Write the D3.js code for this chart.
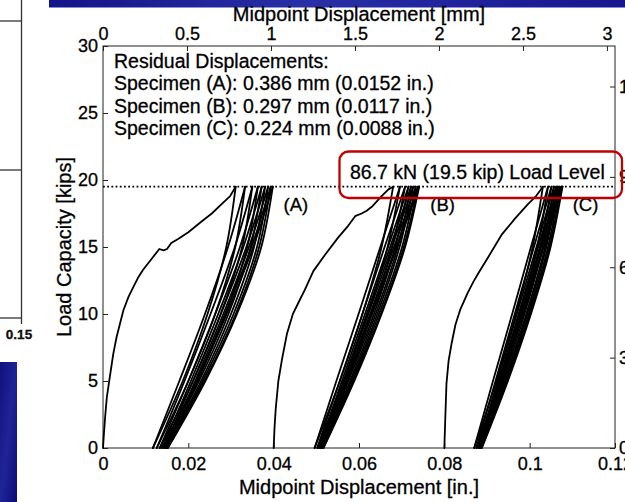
<!DOCTYPE html>
<html>
<head>
<meta charset="utf-8">
<script src="https://cdn.jsdelivr.net/npm/d3@7"></script>
<style>
  html, body { margin: 0; padding: 0; background: #fff; }
  svg { display: block; font-family: "Liberation Sans", Arial, sans-serif; }
  svg text { stroke: #000; stroke-width: 0.3px; }
</style>
</head>
<body>
<svg id="chart" width="625" height="502"></svg>
<script>
// ---- Data (displacement in inches, load in kips) ----
const xTicksIn = [0, 0.02, 0.04, 0.06, 0.08, 0.1, 0.12];
const xTicksMm = [0, 0.5, 1, 1.5, 2, 2.5, 3];
const yTicksKip = [0, 5, 10, 15, 20, 25, 30];
const yTicksKN = [0, 30, 60, 90, 120];

const loadLevelKip = 19.5;
const loadLevelKN = 86.7;

const specimens = ["A", "B", "C"];
const residualMm = [0.386, 0.297, 0.224];
const residualIn = [0.0152, 0.0117, 0.0088];

// load steps at which each loading / unloading branch is sampled
const branchLoads = [0, 5, 10, 15, 19.5];

// first (monotonic) loading to the load level: [disp, load]
const monoA = [[0,0],[0.0002,1.0],[0.0005,2.3],[0.0009,3.8],[0.0016,5.3],[0.0024,7.0],[0.0032,8.3],
  [0.0048,10.3],[0.0060,11.3],[0.0071,12.0],[0.0082,12.7],[0.0094,13.3],[0.0116,14.2],[0.0132,14.85],
  [0.0142,14.75],[0.0150,14.85],[0.0160,15.3],[0.0176,15.6],[0.0200,16.1],[0.0231,16.9],[0.0255,17.5],
  [0.0278,18.2],[0.0298,18.8],[0.0311,19.5]];
const monoB = [[0.0400,0],[0.0402,1.5],[0.0405,3.0],[0.0411,5.0],[0.0420,6.7],[0.0431,8.5],[0.0445,10.0],
  [0.0462,11.1],[0.0473,11.8],[0.0493,13.2],[0.0520,14.4],[0.0551,15.7],[0.0575,16.6],[0.0591,17.3],
  [0.0606,17.5],[0.0618,17.7],[0.0630,18.0],[0.0653,18.8],[0.0669,19.3],[0.0680,19.5]];
const monoC = [[0.0800,0],[0.0802,2.0],[0.0805,4.8],[0.0810,6.5],[0.0817,7.8],[0.0826,9.2],[0.0837,10.3],
  [0.0855,11.6],[0.0868,12.4],[0.0879,13.0],[0.0902,14.2],[0.0934,15.9],[0.0965,17.1],[0.0996,18.2],
  [0.1015,18.8],[0.1031,19.5]];

// unloading branches: displacement at each of branchLoads
const unloadA = [
  [0.0117,0.0187,0.0245,0.0289,0.0311],
  [0.0126,0.0200,0.0263,0.0310,0.0333],
  [0.0133,0.0211,0.0276,0.0326,0.0350],
  [0.0138,0.0219,0.0287,0.0338,0.0363],
  [0.0142,0.0225,0.0294,0.0346,0.0372],
  [0.0146,0.0230,0.0300,0.0354,0.0380],
  [0.0149,0.0234,0.0306,0.0361,0.0387],
  [0.0151,0.0238,0.0311,0.0366,0.0393],
  [0.0152,0.0240,0.0314,0.0371,0.0398]
];
const reloadA = [
  [0.0117,0.0179,0.0239,0.0293,0.0333],
  [0.0126,0.0191,0.0252,0.0309,0.0350],
  [0.0133,0.0200,0.0263,0.0321,0.0363],
  [0.0138,0.0206,0.0270,0.0329,0.0372],
  [0.0142,0.0211,0.0276,0.0336,0.0380],
  [0.0146,0.0216,0.0282,0.0342,0.0387],
  [0.0149,0.0220,0.0286,0.0348,0.0393],
  [0.0151,0.0222,0.0290,0.0352,0.0398]
];
const unloadB = [
  [0.0496,0.0555,0.0608,0.0653,0.0680],
  [0.0502,0.0564,0.0620,0.0667,0.0696],
  [0.0506,0.0571,0.0629,0.0678,0.0708],
  [0.0509,0.0575,0.0635,0.0685,0.0716],
  [0.0511,0.0579,0.0639,0.0691,0.0722],
  [0.0513,0.0582,0.0643,0.0695,0.0727],
  [0.0515,0.0585,0.0647,0.0701,0.0733],
  [0.0516,0.0587,0.0651,0.0705,0.0738],
  [0.0517,0.0589,0.0653,0.0708,0.0741]
];
const reloadB = [
  [0.0496,0.0547,0.0599,0.0650,0.0696],
  [0.0502,0.0555,0.0608,0.0660,0.0708],
  [0.0506,0.0560,0.0614,0.0668,0.0716],
  [0.0509,0.0564,0.0618,0.0673,0.0722],
  [0.0511,0.0566,0.0622,0.0677,0.0727],
  [0.0513,0.0569,0.0626,0.0682,0.0733],
  [0.0515,0.0572,0.0629,0.0687,0.0738],
  [0.0516,0.0574,0.0631,0.0689,0.0741]
];
const unloadC = [
  [0.0870,0.0922,0.0968,0.1007,0.1031],
  [0.0875,0.0929,0.0977,0.1018,0.1043],
  [0.0879,0.0934,0.0983,0.1025,0.1051],
  [0.0882,0.0938,0.0988,0.1031,0.1057],
  [0.0884,0.0941,0.0992,0.1036,0.1062],
  [0.0885,0.0943,0.0995,0.1039,0.1066],
  [0.0886,0.0945,0.0998,0.1043,0.1070],
  [0.0887,0.0947,0.1001,0.1046,0.1074],
  [0.0888,0.0949,0.1003,0.1049,0.1077]
];
const reloadC = [
  [0.0870,0.0914,0.0959,0.1003,0.1043],
  [0.0875,0.0920,0.0965,0.1010,0.1051],
  [0.0879,0.0925,0.0970,0.1016,0.1057],
  [0.0882,0.0928,0.0974,0.1020,0.1062],
  [0.0884,0.0931,0.0977,0.1024,0.1066],
  [0.0885,0.0932,0.0980,0.1027,0.1070],
  [0.0886,0.0934,0.0982,0.1031,0.1074],
  [0.0887,0.0936,0.0985,0.1033,0.1077]
];

// label anchor points for each specimen [disp, load]
const specimenLabelAt = [[0.0452, 17.65], [0.0796, 17.65], [0.1131, 17.65]];

// ---- Layout ----
const svg = d3.select("#chart");
const W = 625, H = 502;
const plot = { left: 103, right: 615, top: 46, bottom: 448 };
const FONT = '"Liberation Sans", Arial, sans-serif';

const x = d3.scaleLinear().domain([0, 0.12]).range([plot.left, plot.right]);
const xMm = d3.scaleLinear().domain([0, 0.12 * 25.4]).range([plot.left, plot.right]);
const y = d3.scaleLinear().domain([0, 30]).range([plot.bottom, plot.top]);
const yKN = d3.scaleLinear().domain([0, 30 * 4.44822]).range([plot.bottom, plot.top]);

svg.append("rect").attr("width", W).attr("height", H).attr("fill", "#fff");

// slide furniture around the figure
const defs = svg.append("defs");
const g1 = defs.append("linearGradient").attr("id", "band").attr("x1", 0).attr("x2", 1).attr("y1", 0).attr("y2", 0);
g1.append("stop").attr("offset", "0%").attr("stop-color", "#14148a");
g1.append("stop").attr("offset", "45%").attr("stop-color", "#2a2fa6");
g1.append("stop").attr("offset", "100%").attr("stop-color", "#161690");
const g2 = defs.append("linearGradient").attr("id", "band2").attr("x1", 0).attr("x2", 1).attr("y1", 0).attr("y2", 1);
g2.append("stop").attr("offset", "0%").attr("stop-color", "#10107e");
g2.append("stop").attr("offset", "50%").attr("stop-color", "#1f2496");
g2.append("stop").attr("offset", "100%").attr("stop-color", "#0c0c78");

svg.append("rect").attr("x", 49).attr("y", 0).attr("width", W - 49).attr("height", 7.5).attr("fill", "url(#band)");
svg.append("rect").attr("x", 0).attr("y", 362).attr("width", 17).attr("height", H - 362).attr("fill", "url(#band2)");

const side = svg.append("g").attr("stroke", "#333").attr("stroke-width", 1.3).attr("fill", "none");
side.append("line").attr("x1", 21.5).attr("x2", 21.5).attr("y1", 0).attr("y2", 324);
[21, 170, 318].forEach(v => side.append("line").attr("x1", 0).attr("x2", 21.5).attr("y1", v).attr("y2", v));
svg.append("text").attr("x", 19).attr("y", 339).attr("text-anchor", "middle")
  .attr("font-size", 13.5).attr("font-weight", "bold").attr("font-family", FONT).attr("fill", "#111").text("0.15");

// ---- Axes (ticks pointing inward) ----
function styleAxis(g) {
  g.select(".domain").remove();
  g.selectAll(".tick line").attr("stroke", "#222").attr("stroke-width", 1);
  g.selectAll(".tick text").attr("fill", "#000");
  g.attr("font-size", 18).attr("font-family", FONT);
}

svg.append("g").attr("transform", `translate(0,${plot.bottom})`)
  .call(d3.axisBottom(x).tickValues(xTicksIn).tickFormat(d => String(d)).tickSizeInner(-5).tickSizeOuter(0).tickPadding(9))
  .call(styleAxis);

svg.append("g").attr("transform", `translate(0,${plot.top})`)
  .call(d3.axisTop(xMm).tickValues(xTicksMm).tickFormat(d => String(d)).tickSizeInner(-5).tickSizeOuter(0).tickPadding(6))
  .call(styleAxis);

svg.append("g").attr("transform", `translate(${plot.left},0)`)
  .call(d3.axisLeft(y).tickValues(yTicksKip).tickFormat(d => String(d)).tickSizeInner(-5).tickSizeOuter(0).tickPadding(5))
  .call(styleAxis);

svg.append("g").attr("transform", `translate(${plot.right},0)`)
  .call(d3.axisRight(yKN).tickValues(yTicksKN).tickFormat(d => String(d)).tickSizeInner(-5).tickSizeOuter(0).tickPadding(4))
  .call(styleAxis);

// axes box
svg.append("rect")
  .attr("x", plot.left).attr("y", plot.top)
  .attr("width", plot.right - plot.left).attr("height", plot.bottom - plot.top)
  .attr("fill", "none").attr("stroke", "#222").attr("stroke-width", 1);

// axis titles
svg.append("text").attr("x", (plot.left + plot.right) / 2).attr("y", 494)
  .attr("text-anchor", "middle").attr("font-size", 20).attr("font-family", FONT)
  .text("Midpoint Displacement [in.]");
svg.append("text").attr("x", (plot.left + plot.right) / 2).attr("y", 21)
  .attr("text-anchor", "middle").attr("font-size", 20).attr("font-family", FONT)
  .text("Midpoint Displacement [mm]");
svg.append("text").attr("transform", `translate(71,${(plot.top + plot.bottom) / 2}) rotate(-90)`)
  .attr("text-anchor", "middle").attr("font-size", 20).attr("font-family", FONT)
  .text("Load Capacity [kips]");

// ---- Load level line ----
svg.append("line")
  .attr("x1", plot.left).attr("x2", plot.right)
  .attr("y1", y(loadLevelKip)).attr("y2", y(loadLevelKip))
  .attr("stroke", "#000").attr("stroke-width", 1.8).attr("stroke-dasharray", "1.8,2.4");

// ---- Load-displacement curves ----
const curves = svg.append("g").attr("fill", "none").attr("stroke", "#000")
  .attr("stroke-width", 1.8).attr("stroke-linejoin", "round").attr("stroke-linecap", "round");

const monoLine = d3.line().x(d => x(d[0])).y(d => y(d[1]));
const branchLine = d3.line().x(d => x(d[0])).y(d => y(d[1])).curve(d3.curveMonotoneY);
const toPts = disp => disp.map((v, i) => [v, branchLoads[i]]);

[[monoA, unloadA, reloadA], [monoB, unloadB, reloadB], [monoC, unloadC, reloadC]].forEach(([mono, un, re]) => {
  curves.append("path").attr("d", monoLine(mono));
  un.forEach(b => curves.append("path").attr("d", branchLine(toPts(b))));
  re.forEach(b => curves.append("path").attr("d", branchLine(toPts(b))));
});

// specimen labels
specimens.forEach((s, i) => {
  svg.append("text")
    .attr("x", x(specimenLabelAt[i][0])).attr("y", y(specimenLabelAt[i][1]))
    .attr("text-anchor", "middle").attr("font-size", 18.5).attr("font-family", FONT)
    .text(`(${s})`);
});

// ---- Residual displacement notes ----
const notes = ["Residual Displacements:"].concat(
  specimens.map((s, i) => `Specimen (${s}): ${residualMm[i].toFixed(3)} mm (${residualIn[i].toFixed(4)} in.)`)
);
svg.append("g").selectAll("text").data(notes).join("text")
  .attr("x", 114).attr("y", (d, i) => 67.5 + i * 22.5)
  .attr("font-size", 19.5).attr("font-family", FONT).attr("fill", "#000")
  .text(d => d);

// ---- Load level callout ----
svg.append("rect")
  .attr("x", 339.5).attr("y", 151.5).attr("width", 282.5).attr("height", 46.5)
  .attr("rx", 9).attr("ry", 9)
  .attr("fill", "none").attr("stroke", "#c00000").attr("stroke-width", 2.3);
svg.append("text").attr("x", 350).attr("y", 178.5)
  .attr("font-size", 19.5).attr("font-family", FONT).attr("fill", "#000")
  .text(`${loadLevelKN.toFixed(1)} kN (${loadLevelKip.toFixed(1)} kip) Load Level`);
</script>
</body>
</html>
